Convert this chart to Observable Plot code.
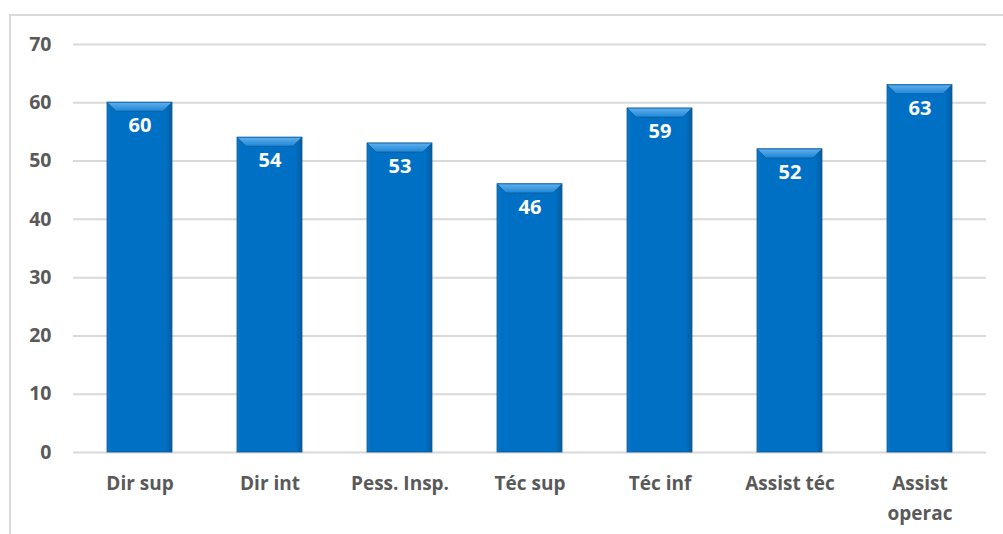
<!DOCTYPE html>
<html>
<head>
<meta charset="utf-8">
<script src="https://cdn.jsdelivr.net/npm/d3@7"></script>
<script src="https://cdn.jsdelivr.net/npm/@observablehq/plot@0.6"></script>
<style>
  html, body { margin: 0; padding: 0; background: #fff; }
  #wrap { position: relative; width: 1003px; height: 534px; overflow: hidden; }
  #border { position: absolute; left: 9px; top: 14px; width: 1000px; height: 540px;
            border-top: 2px solid #d9d9d9; border-left: 2px solid #d9d9d9; box-sizing: border-box; }
  #chart { position: absolute; left: 0; top: 0; }
</style>
</head>
<body>
<div id="wrap"><div id="border"></div><div id="chart"></div></div>
<script>
const categories = ["Dir sup", "Dir int", "Pess. Insp.", "Téc sup", "Téc inf", "Assist téc", "Assist\noperac"];
const values = [60, 54, 53, 46, 59, 52, 63];
const yTicks = [0, 10, 20, 30, 40, 50, 60, 70];

const data = categories.map((c, i) => ({category: c, value: values[i]}));
const font = "'Open Sans', sans-serif";

const chart = Plot.plot({
  width: 1003,
  height: 534,
  marginLeft: 73,
  marginRight: 17,
  marginTop: 44,
  marginBottom: 82,
  style: {fontFamily: font, background: "transparent"},
  x: {domain: categories, paddingInner: 0.5, paddingOuter: 0.25, label: null},
  y: {domain: [0, 70], label: null},
  marks: [
    Plot.gridY(yTicks, {stroke: "#d9d9d9", strokeOpacity: 1, strokeWidth: 2}),
    Plot.axisY(yTicks, {tickSize: 0, tickPadding: 22, fontSize: 19.5, fontWeight: "bold", fill: "#595959", label: null}),
    Plot.axisX({tickSize: 0, tickPadding: 17, fontSize: 19, fontWeight: "bold", fill: "#595959", lineHeight: 1.55, label: null}),
    Plot.barY(data, {x: "category", y: "value", fill: "url(#barBody)", stroke: "#0a5a9a", strokeWidth: 0.8,
      style: {filter: "drop-shadow(2px 2px 2px rgba(0,0,0,0.35))"}}),
    Plot.text(data, {x: "category", y: "value", text: d => String(d.value), dy: 23,
      fill: "white", fontSize: 20, fontWeight: "bold"})
  ]
});

// gradients for the bar body and the bevelled top edge
const svg = d3.select(chart);
const defs = svg.insert("defs", ":first-child");
const body = defs.append("linearGradient").attr("id", "barBody").attr("x1", 0).attr("x2", 1).attr("y1", 0).attr("y2", 0);
body.append("stop").attr("offset", "0%").attr("stop-color", "#1478c4");
body.append("stop").attr("offset", "6%").attr("stop-color", "#0070c4");
body.append("stop").attr("offset", "90%").attr("stop-color", "#0070c4");
body.append("stop").attr("offset", "100%").attr("stop-color", "#0a5a9c");
const bevel = defs.append("linearGradient").attr("id", "barBevel").attr("x1", 0).attr("x2", 0).attr("y1", 0).attr("y2", 1);
bevel.append("stop").attr("offset", "0%").attr("stop-color", "#5fb0ee");
bevel.append("stop").attr("offset", "100%").attr("stop-color", "#1f86d6");

svg.selectAll("g[aria-label='bar'] rect").each(function() {
  const r = d3.select(this);
  const x = +r.attr("x"), y = +r.attr("y"), w = +r.attr("width");
  const b = 9;
  d3.select(this.parentNode).append("polygon")
    .attr("points", [[x, y], [x + w, y], [x + w - b, y + b], [x + b, y + b]].map(p => p.join(",")).join(" "))
    .attr("fill", "url(#barBevel)");
});

document.getElementById("chart").appendChild(chart);
</script>
</body>
</html>
